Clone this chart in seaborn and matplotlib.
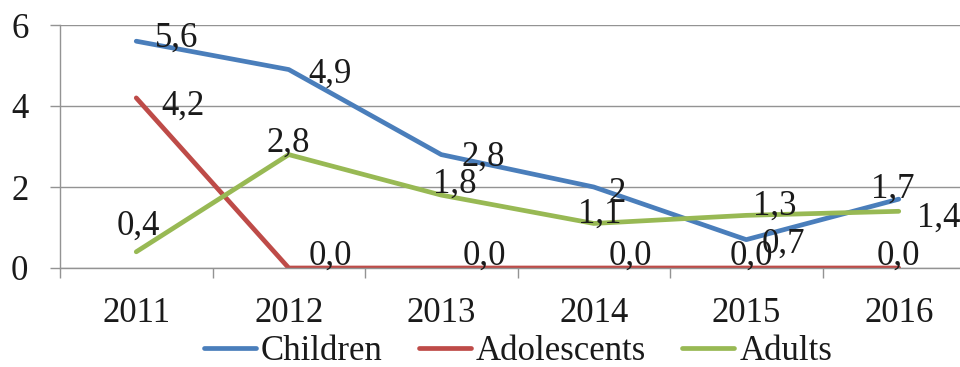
import matplotlib
matplotlib.use("Agg")
import matplotlib.pyplot as plt
import seaborn as sns
import pandas as pd

# Data
years = ["2011", "2012", "2013", "2014", "2015", "2016"]
groups = ["Children", "Adolescents", "Adults"]
children = [5.6, 4.9, 2.8, 2.0, 0.7, 1.7]
adolescents = [4.2, 0.0, 0.0, 0.0, 0.0, 0.0]
adults = [0.4, 2.8, 1.8, 1.1, 1.3, 1.4]
label_text = {
    "Children": ["5,6", "4,9", "2,8", "2", "0,7", "1,7"],
    "Adolescents": ["4,2", "0,0", "0,0", "0,0", "0,0", "0,0"],
    "Adults": ["0,4", "2,8", "1,8", "1,1", "1,3", "1,4"],
}
yticks = [0, 2, 4, 6]

# Styling
colors = {"Children": "#4A7EBB", "Adolescents": "#BE4B48", "Adults": "#98B954"}
grid_color = "#939393"
text_color = "#1a1a1a"
# label offsets (pixels: right, down) of text centre/baseline from each point
label_offsets = {
    "Children": [(40, 6), (41, 13), (42, 11), (23, 15), (37, 13), (-6, -1)],
    "Adolescents": [(47, 17), (42, -3), (43, -3), (37, -3), (5, -3), (0, -3)],
    "Adults": [(2, -17), (-1, -3), (14, -2), (6, -1), (29, -1), (40, 15)],
}

sns.set_theme(style="white")
plt.rcParams["font.family"] = ["Liberation Serif", "DejaVu Serif"]

df = pd.DataFrame({
    "pos": list(range(len(years))) * 3,
    "value": children + adolescents + adults,
    "group": [g for g in groups for _ in years],
})

W, H = 960, 367
fig = plt.figure(figsize=(W / 100, H / 100), dpi=100)
ax = fig.add_axes([60 / W, 1 - 268 / H, 915 / W, (268 - 25) / H])

sns.lineplot(data=df, x="pos", y="value", hue="group", hue_order=groups,
             palette=colors, linewidth=3.4, ax=ax, legend=True,
             solid_capstyle="round", solid_joinstyle="round")

ax.set_xlim(-0.5, len(years) - 0.5)
ax.set_ylim(0, 6)
ax.set_xlabel("")
ax.set_ylabel("")

# grid + axes
ax.set_yticks(yticks)
ax.set_yticklabels([str(t) for t in yticks])
ax.yaxis.grid(True, color=grid_color, linewidth=1.0)
ax.set_axisbelow(True)
for side in ["top", "right"]:
    ax.spines[side].set_visible(False)
for side in ["left", "bottom"]:
    ax.spines[side].set_color(grid_color)
    ax.spines[side].set_linewidth(1.0)

ax.set_xticks(range(len(years)))
ax.set_xticklabels(years)
ax.set_xticks([i - 0.5 for i in range(len(years) + 1)], minor=True)
ax.tick_params(axis="x", which="major", length=0, pad=21, labelsize=25, labelcolor=text_color)
ax.tick_params(axis="x", which="minor", length=7.2, width=1.0, color=grid_color, direction="out", bottom=True)
ax.tick_params(axis="y", which="major", length=7.2, width=1.0, color=grid_color, direction="out",
               left=True, pad=15.5, labelsize=25, labelcolor=text_color)

# data labels
series = {"Children": children, "Adolescents": adolescents, "Adults": adults}
for g in groups:
    for i, v in enumerate(series[g]):
        dx, dy = label_offsets[g][i]
        ax.annotate(label_text[g][i], (i, v), xytext=(dx, -dy), textcoords="offset pixels",
                    ha="center", va="baseline", fontsize=25, color=text_color,
                    annotation_clip=False)

sns.move_legend(ax, "center", bbox_to_anchor=(518 / W, 1 - 352 / H),
                bbox_transform=fig.transFigure, ncol=3, frameon=False, title=None,
                fontsize=25, handlelength=1.5, handletextpad=0.15, columnspacing=1.04,
                borderpad=0, borderaxespad=0)
for t in ax.get_legend().get_texts():
    t.set_color(text_color)

fig.savefig("out.png", dpi=100)
